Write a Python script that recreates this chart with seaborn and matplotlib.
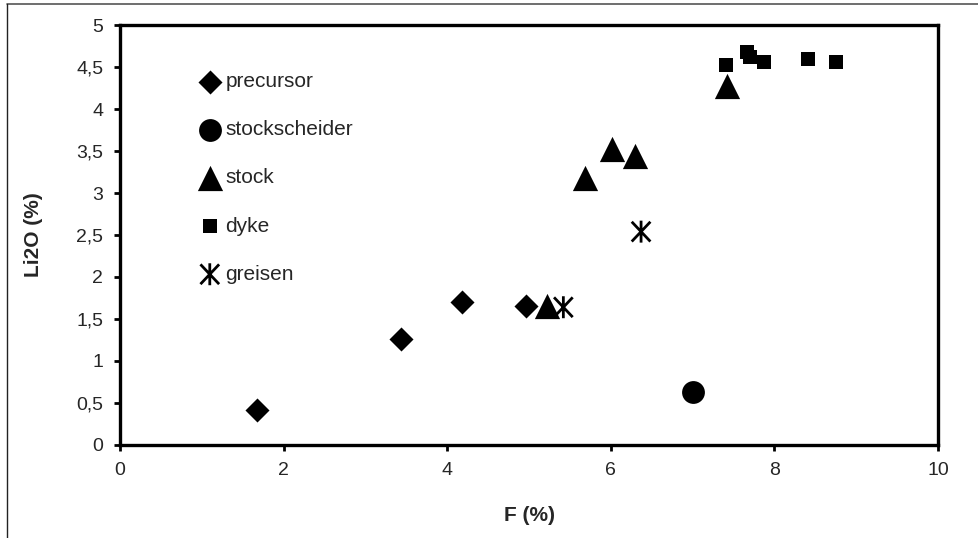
"""Li2O vs F scatter by rock type."""

import matplotlib.pyplot as plt
import pandas as pd
import seaborn as sns
from matplotlib.lines import Line2D
from matplotlib.path import Path
from matplotlib.ticker import FuncFormatter, MultipleLocator

# data
precursor_f = [1.67, 3.43, 4.18, 4.96]
precursor_li2o = [0.42, 1.26, 1.70, 1.65]
stockscheider_f = [7.00]
stockscheider_li2o = [0.63]
stock_f = [5.22, 5.68, 6.02, 6.30, 7.42]
stock_li2o = [1.65, 3.18, 3.52, 3.44, 4.27]
dyke_f = [7.41, 7.67, 7.70, 7.87, 8.41, 8.75]
dyke_li2o = [4.52, 4.68, 4.62, 4.56, 4.60, 4.56]
greisen_f = [5.42, 6.37]
greisen_li2o = [1.64, 2.54]

groups = ["precursor", "stockscheider", "stock", "dyke", "greisen"]

# six-armed asterisk like the spreadsheet star marker
star = Path(
    [(0, -1), (0, 1), (-0.85, -0.9), (0.85, 0.9), (-0.85, 0.9), (0.85, -0.9)],
    [Path.MOVETO, Path.LINETO, Path.MOVETO, Path.LINETO, Path.MOVETO, Path.LINETO],
)

styles = {
    "precursor": dict(marker="D", s=150),
    "stockscheider": dict(marker="o", s=270),
    "stock": dict(marker="^", s=330),
    "dyke": dict(marker="s", s=115),
    "greisen": dict(marker=star, s=250),
}


def comma(v, _pos):
    return f"{v:g}".replace(".", ",")


def main() -> None:
    sns.set_theme(style="white")
    plt.rcParams["font.family"] = ["Liberation Sans", "DejaVu Sans"]

    df = pd.concat(
        [
            pd.DataFrame({"F": precursor_f, "Li2O": precursor_li2o, "type": "precursor"}),
            pd.DataFrame({"F": stockscheider_f, "Li2O": stockscheider_li2o, "type": "stockscheider"}),
            pd.DataFrame({"F": stock_f, "Li2O": stock_li2o, "type": "stock"}),
            pd.DataFrame({"F": dyke_f, "Li2O": dyke_li2o, "type": "dyke"}),
            pd.DataFrame({"F": greisen_f, "Li2O": greisen_li2o, "type": "greisen"}),
        ],
        ignore_index=True,
    )

    fig = plt.figure(figsize=(9.79, 5.38), dpi=100)
    ax = fig.add_axes([0.1226, 0.1729, 0.8355, 0.7806])

    for g in groups:
        sub = df[df["type"] == g]
        st = styles[g]
        if g == "greisen":
            sns.scatterplot(data=sub, x="F", y="Li2O", marker=st["marker"], s=st["s"],
                            color="black", facecolor="none", edgecolor="black",
                            linewidth=2.0, label=g, ax=ax, zorder=3)
        else:
            sns.scatterplot(data=sub, x="F", y="Li2O", marker=st["marker"], s=st["s"],
                            color="black", edgecolor="black", linewidth=0, label=g,
                            ax=ax, zorder=3)

    ax.set_xlim(0, 10)
    ax.set_ylim(0, 5)
    ax.xaxis.set_major_locator(MultipleLocator(2))
    ax.yaxis.set_major_locator(MultipleLocator(0.5))
    ax.yaxis.set_major_formatter(FuncFormatter(comma))
    ax.xaxis.set_major_formatter(FuncFormatter(comma))
    ax.tick_params(axis="both", direction="out", length=4, width=2, color="black",
                   labelsize=14, pad=8, left=True, bottom=True)
    for sp in ax.spines.values():
        sp.set_visible(True)
        sp.set_color("black")
        sp.set_linewidth(2.4)
    ax.grid(False)

    ax.set_xlabel("F (%)", fontsize=15, fontweight="bold", labelpad=20)
    ax.set_ylabel("Li2O (%)", fontsize=15, fontweight="bold", labelpad=24)

    leg = ax.legend(loc="upper left", bbox_to_anchor=(0.097, 0.888), frameon=False,
                    fontsize=15, borderpad=0, borderaxespad=0, handlelength=1.0,
                    handletextpad=0.25, labelspacing=1.4)
    for h in leg.legend_handles:
        h.set_edgecolor("black")
    leg.legend_handles[-1].set_facecolor("none")
    leg.legend_handles[-1].set_linewidth(2.0)

    # partial outer frame of the original picture
    fig.add_artist(Line2D([0.007, 1.0], [0.9926, 0.9926], transform=fig.transFigure,
                          color="#555555", linewidth=1.2))
    fig.add_artist(Line2D([0.0072, 0.0072], [0.0, 0.9926], transform=fig.transFigure,
                          color="#222222", linewidth=1.0))

    fig.savefig("out.png", dpi=100)
    plt.close(fig)


if __name__ == "__main__":
    main()
